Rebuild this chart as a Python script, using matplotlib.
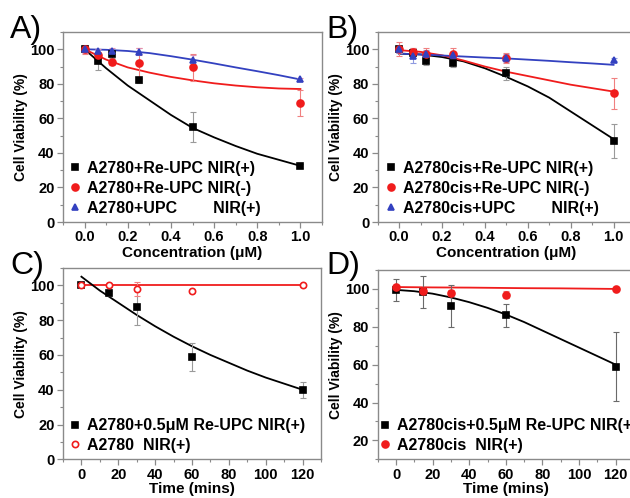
import matplotlib
matplotlib.use('Agg')
import matplotlib.pyplot as plt
from matplotlib.lines import Line2D
from matplotlib.ticker import MultipleLocator

plt.rcParams['font.family'] = ['Liberation Sans', 'DejaVu Sans']
plt.rcParams['font.weight'] = 'bold'

# ---- panel A: A2780, concentration series ----
conc = [0.0, 0.0625, 0.125, 0.25, 0.5, 1.0]
a_re_nir = [100, 93, 97, 82, 55, 32.5]
a_re_nir_err = [1, 5, 2, 1.5, 8.5, 1]
a_re_dark = [100, 96.5, 92.5, 92, 89.5, 69]
a_re_dark_err = [2.5, 2, 1.5, 9, 8, 7.5]
a_upc = [100, 99, 99, 98.5, 93.5, 82.5]
a_upc_err = [2, 1, 1.5, 2, 3, 1]

fit_conc = [0.0, 0.1, 0.2, 0.3, 0.4, 0.5, 0.6, 0.7, 0.8, 0.9, 1.0]
a_fit_re_nir = [100, 89, 79, 70.5, 62, 54.5, 49, 44, 39.5, 36, 32.5]
a_fit_re_dark = [100, 94, 89.5, 86.5, 84, 82, 80.3, 79, 78, 77.3, 77]
a_fit_upc = [100, 99.7, 99, 97.8, 96, 94, 91.8, 89.5, 87.3, 85, 82.5]

# ---- panel B: A2780cis, concentration series ----
b_re_nir = [100, 98, 93, 92, 86, 47]
b_re_nir_err = [2, 3, 2, 2, 4, 10]
b_re_dark = [100, 98.5, 97.5, 97, 95, 74.5]
b_re_dark_err = [4, 2.5, 3.5, 3.5, 3, 9]
b_upc = [100, 96, 97.5, 96.5, 95, 94]
b_upc_err = [2, 4, 2, 2, 2.5, 1]

b_fit_re_nir = [97.5, 97, 95.5, 93, 89, 84, 78.5, 72, 64, 56, 48]
b_fit_re_dark = [99.5, 98.5, 96.5, 93.5, 90, 87, 84.5, 82, 79.5, 77.5, 75.5]
b_fit_upc = [97.5, 97, 96.4, 95.8, 95.2, 94.7, 94, 93.3, 92.5, 91.8, 91]

# ---- panels C / D: time series ----
times = [0, 15, 30, 60, 120]
c_re = [100, 95.5, 87.5, 59, 40]
c_re_err = [1, 1.5, 10.5, 8, 4.5]
c_ctrl = [100.5, 100, 98, 96.5, 100]
c_ctrl_err = [1, 1, 4, 1, 1]
d_re = [99.5, 98.5, 91, 86, 59]
d_re_err = [6, 8.5, 11, 6, 18]
d_ctrl = [101, 99, 98, 97, 100]
d_ctrl_err = [1, 1, 1.5, 2, 1]

fit_time = [0, 10, 20, 30, 40, 50, 60, 70, 80, 90, 100, 110, 120]
c_fit_re = [105, 97, 90, 83, 76.5, 70.5, 65, 60, 55.5, 51, 47, 43.5, 40]
c_fit_ctrl = [100] * len(fit_time)
d_fit_re = [99.5, 98.8, 97.5, 95.5, 93, 90, 86.5, 82.5, 78, 73.5, 69, 64.5, 60]
d_fit_ctrl = [101, 100.9, 100.8, 100.75, 100.7, 100.6, 100.5, 100.4, 100.35, 100.3, 100.2, 100.1, 100]

BLACK = '#000000'
RED = '#f01c1c'
BLUE = '#3341c0'
FRAME = '#8a8a8a'

W, H = 630, 498
fig = plt.figure(figsize=(W / 100, H / 100), dpi=100)


def make_axes(left, top, right, bottom):
    return fig.add_axes([left / W, 1 - bottom / H, (right - left) / W, (bottom - top) / H])


def style(ax):
    for s in ax.spines.values():
        s.set_color(FRAME)
        s.set_linewidth(1.0)
    ax.tick_params(which='both', direction='out', color=FRAME, top=False, right=False,
                   labelsize=10.5, pad=1.5)
    ax.tick_params(which='major', length=4.5, width=0.9)
    ax.tick_params(which='minor', length=2.5, width=0.8)
    for lab in ax.get_xticklabels() + ax.get_yticklabels():
        lab.set_fontweight('bold')


def series(ax, x, y, err, color, ecolor, marker, ms, mfc=None):
    ax.errorbar(x, y, yerr=err, fmt='none', ecolor=ecolor, elinewidth=0.8, capsize=2, capthick=0.8)
    ax.plot(x, y, linestyle='none', marker=marker, ms=ms, color=color,
            mfc=mfc if mfc else color, mec=color, mew=1.2, zorder=5)


def legend(ax, entries, anchor):
    handles = [Line2D([], [], linestyle='none', marker=m, ms=ms, color=c,
                      mfc=f if f else c, mec=c, mew=1.2) for m, ms, c, f, _ in entries]
    labels = [e[4] for e in entries]
    ax.legend(handles, labels, loc='lower left', bbox_to_anchor=anchor, frameon=False,
              handlelength=0.7, handletextpad=0.4, labelspacing=0.3, borderaxespad=0,
              prop={'size': 11.5, 'weight': 'bold'})


def ylab(ax):
    ax.set_ylabel('Cell Viability (%)', fontsize=10, fontweight='bold', labelpad=1.5)


# Panel A
axA = make_axes(63, 32, 322, 222)
axA.plot(fit_conc, a_fit_re_nir, color=BLACK, lw=1.3)
axA.plot(fit_conc, a_fit_re_dark, color=RED, lw=1.3)
axA.plot(fit_conc, a_fit_upc, color=BLUE, lw=1.3)
series(axA, conc, a_re_nir, a_re_nir_err, BLACK, '#9a9a9a', 's', 4.5)
series(axA, conc, a_re_dark, a_re_dark_err, RED, '#f08080', 'o', 5)
series(axA, conc, a_upc, a_upc_err, BLUE, '#e08fb0', '^', 5)
axA.set_xlim(-0.1, 1.1)
axA.set_ylim(0, 110)
axA.xaxis.set_major_locator(MultipleLocator(0.2))
axA.xaxis.set_minor_locator(MultipleLocator(0.1))
axA.yaxis.set_major_locator(MultipleLocator(20))
axA.yaxis.set_minor_locator(MultipleLocator(10))
ylab(axA)
axA.set_xlabel('Concentration (\u03bcM)', fontsize=11, fontweight='bold', labelpad=1)
legend(axA, [('s', 4.5, BLACK, None, 'A2780+Re-UPC NIR(+)'),
             ('o', 5, RED, None, 'A2780+Re-UPC NIR(-)'),
             ('^', 5, BLUE, None, 'A2780+UPC        NIR(+)')], (0.0, 0.0))
style(axA)

# Panel B
axB = make_axes(377.7, 32, 635, 222)
axB.plot(fit_conc, b_fit_re_nir, color=BLACK, lw=1.3)
axB.plot(fit_conc, b_fit_re_dark, color=RED, lw=1.3)
axB.plot(fit_conc, b_fit_upc, color=BLUE, lw=1.3)
series(axB, conc, b_re_nir, b_re_nir_err, BLACK, '#9a9a9a', 's', 4.5)
series(axB, conc, b_re_dark, b_re_dark_err, RED, '#f08080', 'o', 5)
series(axB, conc, b_upc, b_upc_err, BLUE, '#8f9ae0', '^', 5)
axB.set_xlim(-0.1, 1.1)
axB.set_ylim(0, 110)
axB.xaxis.set_major_locator(MultipleLocator(0.2))
axB.xaxis.set_minor_locator(MultipleLocator(0.1))
axB.yaxis.set_major_locator(MultipleLocator(20))
axB.yaxis.set_minor_locator(MultipleLocator(10))
ylab(axB)
axB.set_xlabel('Concentration (\u03bcM)', fontsize=11, fontweight='bold', labelpad=1)
legend(axB, [('s', 4.5, BLACK, None, 'A2780cis+Re-UPC NIR(+)'),
             ('o', 5, RED, None, 'A2780cis+Re-UPC NIR(-)'),
             ('^', 5, BLUE, None, 'A2780cis+UPC        NIR(+)')], (0.005, 0.0))
style(axB)

# Panel C
axC = make_axes(63, 268, 321, 459.3)
axC.plot(fit_time, c_fit_ctrl, color=RED, lw=1.3)
axC.plot(fit_time, c_fit_re, color=BLACK, lw=1.3)
series(axC, times, c_re, c_re_err, BLACK, '#9a9a9a', 's', 4.5)
series(axC, times, c_ctrl, c_ctrl_err, RED, '#f08080', 'o', 4.5, mfc='white')
axC.set_xlim(-10, 130)
axC.set_ylim(0, 110)
axC.xaxis.set_major_locator(MultipleLocator(20))
axC.xaxis.set_minor_locator(MultipleLocator(10))
axC.yaxis.set_major_locator(MultipleLocator(20))
axC.yaxis.set_minor_locator(MultipleLocator(10))
ylab(axC)
axC.set_xlabel('Time (mins)', fontsize=11, fontweight='bold', labelpad=0)
legend(axC, [('s', 4.5, BLACK, None, 'A2780+0.5\u03bcM Re-UPC NIR(+)'),
             ('o', 4.5, RED, 'white', 'A2780  NIR(+)')], (0.0, 0.0))
style(axC)

# Panel D
axD = make_axes(377.7, 270, 634, 459.3)
axD.plot(fit_time, d_fit_ctrl, color=RED, lw=1.3)
axD.plot(fit_time, d_fit_re, color=BLACK, lw=1.3)
series(axD, times, d_re, d_re_err, BLACK, '#6a6a6a', 's', 4.5)
series(axD, times, d_ctrl, d_ctrl_err, RED, '#f08080', 'o', 5)
axD.set_xlim(-10, 130)
axD.set_ylim(10, 110)
axD.xaxis.set_major_locator(MultipleLocator(20))
axD.xaxis.set_minor_locator(MultipleLocator(10))
axD.yaxis.set_major_locator(MultipleLocator(20))
axD.yaxis.set_minor_locator(MultipleLocator(10))
ylab(axD)
axD.set_xlabel('Time (mins)', fontsize=11, fontweight='bold', labelpad=0)
legend(axD, [('s', 4.5, BLACK, None, 'A2780cis+0.5\u03bcM Re-UPC NIR(+)'),
             ('o', 5, RED, None, 'A2780cis  NIR(+)')], (-0.02, 0.0))
style(axD)

# panel letters
for label, x, y in [('A)', 10, 38), ('B)', 326, 38), ('C)', 10, 274), ('D)', 326, 274)]:
    fig.text(x / W, 1 - y / H, label, fontsize=23, fontweight='normal', ha='left', va='baseline')

fig.savefig('out.png', dpi=100)
